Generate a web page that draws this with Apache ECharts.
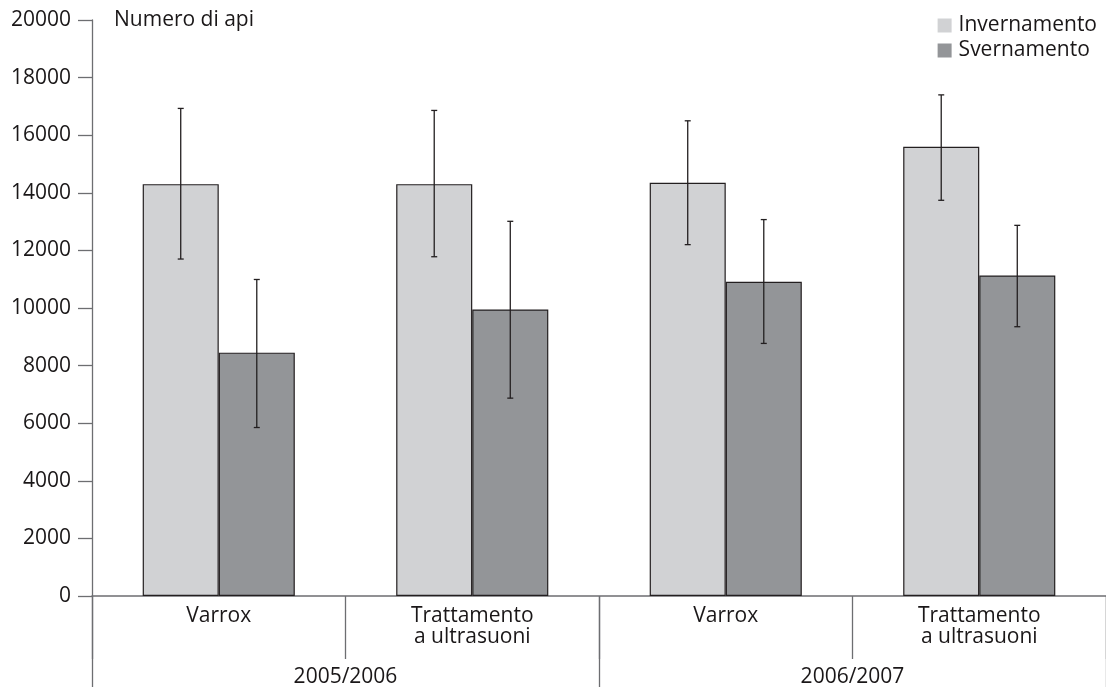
<!DOCTYPE html>
<html>
<head>
<meta charset="utf-8">
<script src="https://cdn.jsdelivr.net/npm/echarts@6/dist/echarts.min.js"></script>
<style>
html,body{margin:0;padding:0;background:#fff;overflow:hidden;width:1106px;height:688px;}
#c{width:1106px;height:688px;display:block;}
</style>
</head>
<body>
<div id="c"></div>
<script>
// ---- data ----
const categories = ['Varrox', 'Trattamento\na ultrasuoni', 'Varrox', 'Trattamento\na ultrasuoni'];
const years = ['2005/2006', '2006/2007'];
const seriesNames = ['Invernamento', 'Svernamento'];
const invernamento = [14300, 14300, 14350, 15600];
const invernamentoHigh = [16930, 16860, 16500, 17400];
const invernamentoLow = [11700, 11780, 12200, 13740];
const svernamento = [8450, 9950, 10910, 11130];
const svernamentoHigh = [10990, 13010, 13070, 12870];
const svernamentoLow = [5850, 6870, 8770, 9350];
const yTicks = [0, 2000, 4000, 6000, 8000, 10000, 12000, 14000, 16000, 18000, 20000];

const FONT = '"Open Sans", "Noto Sans", sans-serif';
const FS = 21;
const TXT = '#1a1718';
const AXIS = '#6d6e71';
const BAR_RATIO = 0.30;

function errRender(sign) {
  return function (params, api) {
    const idx = api.value(0);
    const hi = api.coord([idx, api.value(1)]);
    const lo = api.coord([idx, api.value(2)]);
    const band = api.size([1, 0])[0];
    const off = sign * band * BAR_RATIO / 2;
    const x = hi[0] + off;
    const cap = 3;
    const style = { stroke: '#231f20', lineWidth: 1.3 };
    return {
      type: 'group',
      children: [
        { type: 'line', shape: { x1: x, y1: hi[1], x2: x, y2: lo[1] }, style },
        { type: 'line', shape: { x1: x - cap, y1: hi[1], x2: x + cap, y2: hi[1] }, style },
        { type: 'line', shape: { x1: x - cap, y1: lo[1], x2: x + cap, y2: lo[1] }, style }
      ]
    };
  };
}

const chart = echarts.init(document.getElementById('c'), null, { renderer: 'canvas', width: 1106, height: 688 });
chart.setOption({
  animation: false,
  backgroundColor: '#ffffff',
  textStyle: { fontFamily: FONT, color: TXT },
  grid: { left: 92, right: 0, top: 20, bottom: 91, containLabel: false },
  legend: {
    orient: 'vertical',
    right: 4,
    top: 10,
    itemWidth: 14,
    itemHeight: 14,
    itemGap: 4,
    icon: 'rect',
    data: seriesNames,
    textStyle: { fontFamily: FONT, fontSize: FS, color: TXT, padding: [0, 0, 0, 2] },
    itemStyle: { borderWidth: 0 }
  },
  graphic: [{
    type: 'text', left: 114, top: 10,
    style: { text: 'Numero di api', fontFamily: FONT, fontSize: FS, fill: TXT }
  }],
  xAxis: [{
    type: 'category',
    data: categories,
    position: 'bottom',
    axisLine: { show: true, lineStyle: { color: AXIS, width: 1.5 } },
    axisTick: { show: true, interval: 0, length: 63, lineStyle: { color: AXIS, width: 1.3 } },
    axisLabel: { interval: 0, margin: 10, fontFamily: FONT, fontSize: FS, color: TXT, lineHeight: 21 },
    splitLine: { show: false }
  }, {
    type: 'category',
    data: years,
    position: 'bottom',
    axisLine: { show: false },
    axisTick: { show: true, interval: 0, length: 91, lineStyle: { color: AXIS, width: 1.3 } },
    axisLabel: { interval: 0, margin: 71, fontFamily: FONT, fontSize: FS, color: TXT },
    splitLine: { show: false }
  }],
  yAxis: {
    type: 'value',
    min: yTicks[0],
    max: yTicks[yTicks.length - 1],
    interval: 2000,
    axisLine: { show: true, lineStyle: { color: AXIS, width: 1.3 } },
    axisTick: { show: true, length: 14, lineStyle: { color: AXIS, width: 1.3 } },
    axisLabel: { margin: 21, fontFamily: FONT, fontSize: FS, color: TXT, formatter: v => String(v) },
    splitLine: { show: false }
  },
  series: [{
    name: seriesNames[0],
    type: 'bar',
    data: invernamento,
    barWidth: (BAR_RATIO * 100) + '%',
    barGap: '0%',
    itemStyle: { color: '#d1d2d4', borderColor: '#231f20', borderWidth: 1.2 }
  }, {
    name: seriesNames[1],
    type: 'bar',
    data: svernamento,
    barWidth: (BAR_RATIO * 100) + '%',
    barGap: '0%',
    itemStyle: { color: '#939598', borderColor: '#231f20', borderWidth: 1.2 }
  }, {
    type: 'custom',
    renderItem: errRender(-1),
    data: invernamento.map((v, i) => [i, invernamentoHigh[i], invernamentoLow[i]]),
    encode: { x: 0, y: [1, 2] },
    z: 5,
    silent: true
  }, {
    type: 'custom',
    renderItem: errRender(1),
    data: svernamento.map((v, i) => [i, svernamentoHigh[i], svernamentoLow[i]]),
    encode: { x: 0, y: [1, 2] },
    z: 5,
    silent: true
  }]
});
</script>
</body>
</html>
